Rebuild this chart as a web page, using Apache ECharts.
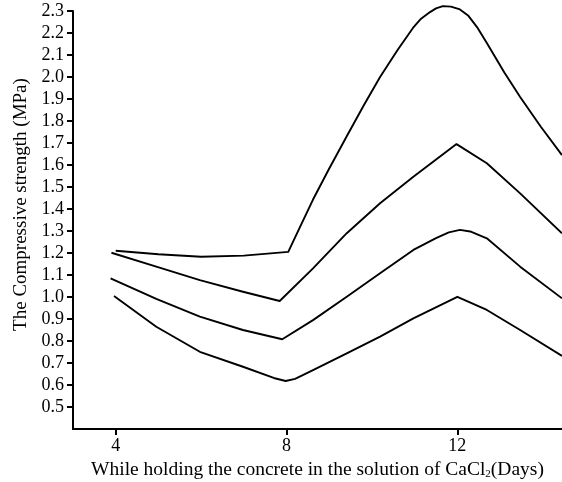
<!DOCTYPE html>
<html>
<head>
<meta charset="utf-8">
<script src="https://cdn.jsdelivr.net/npm/echarts@6/dist/echarts.min.js"></script>
<style>
html,body{margin:0;padding:0;background:#fff;}
#chart{width:562px;height:482px;}
</style>
</head>
<body>
<div id="chart"></div>
<script>
// Data: [day, compressive strength (MPa)]
var curveTop = [[4,1.21],[5,1.194],[6,1.183],[7,1.188],[8.04,1.205],[8.3,1.312],[8.62,1.443],[9.0,1.584],[9.41,1.731],[9.8,1.868],[10.19,2.0],[10.6,2.123],[10.96,2.223],[11.15,2.265],[11.36,2.295],[11.5,2.312],[11.66,2.322],[11.85,2.32],[12.06,2.307],[12.25,2.28],[12.46,2.227],[12.69,2.155],[13.1,2.02],[13.47,1.909],[13.95,1.775],[14.45,1.645]];
var curveSecond = [[3.9,1.201],[4.95,1.138],[5.97,1.077],[6.98,1.024],[7.84,0.982],[8.62,1.13],[9.41,1.29],[10.19,1.426],[10.97,1.547],[11.98,1.695],[12.69,1.608],[13.47,1.471],[14.45,1.29]];
var curveThird = [[3.88,1.085],[4.95,0.991],[5.97,0.911],[6.98,0.85],[7.9,0.808],[8.62,0.895],[9.41,1.001],[10.19,1.108],[10.97,1.214],[11.5,1.268],[11.8,1.294],[12.06,1.305],[12.3,1.298],[12.69,1.267],[13.47,1.138],[14.45,0.994]];
var curveBottom = [[3.96,1.005],[4.95,0.865],[5.97,0.751],[6.98,0.683],[7.7,0.632],[7.98,0.618],[8.2,0.628],[8.62,0.668],[9.41,0.744],[10.19,0.82],[10.97,0.903],[12.0,1.001],[12.69,0.941],[13.47,0.85],[14.45,0.732]];

var xTicks = [4, 8, 12];
var yTicks = [0.5,0.6,0.7,0.8,0.9,1.0,1.1,1.2,1.3,1.4,1.5,1.6,1.7,1.8,1.9,2.0,2.1,2.2,2.3];

var yTitle = 'The Compressive strength (MPa)';
var xTitle = 'While holding the concrete in the solution of CaCl{sub|2}(Days)';

var FONT = '"Liberation Serif", "DejaVu Serif", serif';

function lineSeries(data) {
  return {
    type: 'line',
    data: data,
    smooth: false,
    symbol: 'none',
    lineStyle: { color: '#000', width: 1.9, join: 'round' },
    clip: false
  };
}

var chart = echarts.init(document.getElementById('chart'), null, { renderer: 'canvas' });
chart.setOption({
  animation: false,
  backgroundColor: '#fff',
  grid: { left: 73, right: 0, top: 11, bottom: 53, containLabel: false, outerBoundsMode: 'none' },
  xAxis: {
    type: 'value',
    min: 3,
    max: 14.45,
    axisLine: { show: true, onZero: false, lineStyle: { color: '#000', width: 2 } },
    axisTick: { show: true, customValues: xTicks, length: 6, lineStyle: { color: '#000', width: 2 } },
    axisLabel: { customValues: xTicks, color: '#000', fontFamily: FONT, fontSize: 18, margin: 8 },
    splitLine: { show: false },
    name: xTitle,
    nameLocation: 'middle',
    nameGap: 26,
    nameTextStyle: {
      color: '#000', fontFamily: FONT, fontSize: 19.5,
      rich: { sub: { fontFamily: FONT, fontSize: 11, color: '#000', padding: [9, 0, 0, 0] } }
    }
  },
  yAxis: {
    type: 'value',
    min: 0.4,
    max: 2.3,
    axisLine: { show: true, onZero: false, lineStyle: { color: '#000', width: 2 } },
    axisTick: { show: true, customValues: yTicks, length: 6, lineStyle: { color: '#000', width: 2 } },
    axisLabel: {
      customValues: yTicks, color: '#000', fontFamily: FONT, fontSize: 18, margin: 9,
      formatter: function (v) { return Number(v).toFixed(1); }
    },
    splitLine: { show: false },
    name: yTitle,
    nameLocation: 'middle',
    nameGap: 42,
    nameTextStyle: { color: '#000', fontFamily: FONT, fontSize: 19, padding: [0, 0, 0, 31] }
  },
  series: [
    lineSeries(curveTop),
    lineSeries(curveSecond),
    lineSeries(curveThird),
    lineSeries(curveBottom)
  ]
});
</script>
</body>
</html>
